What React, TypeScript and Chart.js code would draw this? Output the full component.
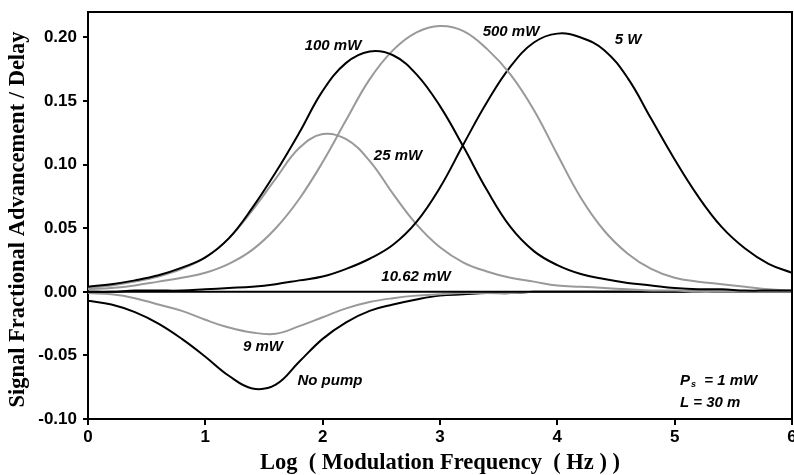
import React, { useEffect, useRef } from "react";
import { Chart, registerables } from "chart.js";

Chart.register(...registerables);

// Log10 of modulation frequency (Hz)
const xs = [0, 0.2, 0.4, 0.6, 0.8, 1.0, 1.2, 1.4, 1.6, 1.8, 2.0, 2.2, 2.4, 2.6, 2.8, 3.0, 3.2, 3.4, 3.6, 3.8, 4.0, 4.2, 4.4, 4.6, 4.8, 5.0, 5.2, 5.4, 5.6, 5.8, 6.0];

const p100mW = [0.004, 0.006, 0.009, 0.013, 0.019, 0.027, 0.042, 0.066, 0.094, 0.125, 0.158, 0.180, 0.189, 0.186, 0.171, 0.146, 0.114, 0.080, 0.051, 0.032, 0.021, 0.014, 0.010, 0.007, 0.005, 0.003, 0.002, 0.002, 0.001, 0.001, 0.001];
const p500mW = [0.002, 0.003, 0.005, 0.008, 0.011, 0.015, 0.022, 0.033, 0.050, 0.073, 0.102, 0.135, 0.167, 0.190, 0.204, 0.209, 0.205, 0.191, 0.171, 0.143, 0.108, 0.074, 0.048, 0.030, 0.018, 0.011, 0.008, 0.006, 0.004, 0.002, 0.001];
const p5W = [0.000, 0.000, 0.001, 0.001, 0.001, 0.002, 0.003, 0.004, 0.006, 0.009, 0.012, 0.018, 0.026, 0.037, 0.055, 0.082, 0.116, 0.149, 0.177, 0.196, 0.203, 0.200, 0.190, 0.168, 0.136, 0.104, 0.075, 0.051, 0.034, 0.022, 0.015];
const p25mW = [0.003, 0.005, 0.008, 0.012, 0.018, 0.027, 0.042, 0.064, 0.089, 0.113, 0.124, 0.120, 0.103, 0.077, 0.053, 0.035, 0.023, 0.016, 0.011, 0.008, 0.005, 0.004, 0.003, 0.002, 0.001, 0.001, 0, 0, 0, 0, 0];
const p1062mW = [0, 0, 0, 0, 0, 0, 0, 0, 0, 0, 0, 0, 0, 0, 0, 0, 0, 0, 0, 0, 0, 0, 0, 0, 0, 0, 0, 0, 0, 0, 0];
const p9mW = [-0.001, -0.002, -0.005, -0.010, -0.015, -0.022, -0.028, -0.032, -0.033, -0.027, -0.020, -0.013, -0.008, -0.005, -0.003, -0.002, -0.001, -0.001, -0.001, 0, 0, 0, 0, 0, 0, 0, 0, 0, 0, 0, 0];
const pNoPump = [-0.007, -0.010, -0.016, -0.025, -0.037, -0.051, -0.066, -0.076, -0.073, -0.055, -0.037, -0.024, -0.015, -0.010, -0.006, -0.003, -0.002, -0.001, -0.001, 0, 0, 0, 0, 0, 0, 0, 0, 0, 0, 0, 0];

const xTicks = [0, 1, 2, 3, 4, 5, 6];
const yTicks = [-0.1, -0.05, 0, 0.05, 0.1, 0.15, 0.2];

const seriesNames = ["100 mW", "500 mW", "5 W", "25 mW", "10.62 mW", "9 mW", "No pump"];
const seriesValues = [p100mW, p500mW, p5W, p25mW, p1062mW, p9mW, pNoPump];
const seriesColors = ["#000000", "#999999", "#000000", "#999999", "#000000", "#999999", "#000000"];

// curve labels, placed in data coordinates (centre of text)
const curveLabels = [
  { text: "100 mW", x: 2.088, y: 0.193 },
  { text: "500 mW", x: 3.605, y: 0.204 },
  { text: "5 W", x: 4.602, y: 0.198 },
  { text: "25 mW", x: 2.642, y: 0.107 },
  { text: "10.62 mW", x: 2.795, y: 0.012 },
  { text: "9 mW", x: 1.491, y: -0.043 },
  { text: "No pump", x: 2.062, y: -0.070 },
];

const X_TITLE = "Log  ( Modulation Frequency  ( Hz ) )";
const Y_TITLE = "Signal Fractional Advancement / Delay";

const labelFont = "italic bold 15px 'Liberation Sans', Arial, sans-serif";
const titleFont = "bold 22.5px 'Liberation Serif', 'Times New Roman', serif";

const textPlugin = {
  id: "textPlugin",
  afterDraw(chart: any) {
    const ctx = chart.ctx;
    const xs_ = chart.scales.x;
    const ys_ = chart.scales.y;
    const a = chart.chartArea;
    ctx.save();
    // frame top and right
    ctx.strokeStyle = "#000";
    ctx.lineWidth = 2;
    ctx.beginPath();
    ctx.moveTo(a.left, a.top);
    ctx.lineTo(a.right, a.top);
    ctx.lineTo(a.right, a.bottom);
    ctx.stroke();

    ctx.fillStyle = "#000";
    ctx.font = labelFont;
    ctx.textAlign = "center";
    ctx.textBaseline = "middle";
    for (const l of curveLabels) {
      ctx.fillText(l.text, xs_.getPixelForValue(l.x), ys_.getPixelForValue(l.y));
    }

    // P_s = 1 mW and L = 30 m
    ctx.textAlign = "left";
    const px = xs_.getPixelForValue(5.045);
    const py1 = ys_.getPixelForValue(-0.070);
    const py2 = ys_.getPixelForValue(-0.0875);
    ctx.fillText("P", px, py1);
    const wP = ctx.measureText("P").width;
    ctx.font = "italic bold 9px 'Liberation Sans', Arial, sans-serif";
    ctx.fillText("s", px + wP + 1, py1 + 4);
    const ws = ctx.measureText("s").width;
    ctx.font = labelFont;
    ctx.fillText("  = 1 mW", px + wP + 1 + ws, py1);
    ctx.fillText("L = 30 m", px, py2);

    // axis titles
    ctx.font = titleFont;
    ctx.textAlign = "center";
    ctx.textBaseline = "middle";
    ctx.fillText(X_TITLE, (a.left + a.right) / 2, 463);
    ctx.translate(18, (a.top + a.bottom) / 2 + 4);
    ctx.rotate(-Math.PI / 2);
    ctx.fillText(Y_TITLE, 0, 0);
    ctx.restore();
  },
};

export default function App() {
  const ref = useRef<HTMLCanvasElement | null>(null);
  useEffect(() => {
    document.body.style.margin = "0";
    const canvas = ref.current;
    if (!canvas) return;
    const tickFont = { family: "'Liberation Sans', Arial, sans-serif", size: 17, weight: "bold" as const };
    const chart = new Chart(canvas, {
      type: "line",
      data: {
        datasets: seriesNames.map((name, i) => ({
          label: name,
          data: xs.map((x, j) => ({ x, y: seriesValues[i][j] })),
          borderColor: seriesColors[i],
          backgroundColor: seriesColors[i],
          borderWidth: 2,
          pointRadius: 0,
          tension: 0.4,
          fill: false,
        })),
      },
      options: {
        animation: false,
        responsive: false,
        devicePixelRatio: 1,
        layout: { padding: { top: 12, right: 2, left: 0, bottom: 0 } },
        plugins: { legend: { display: false }, tooltip: { enabled: false } },
        scales: {
          x: {
            type: "linear",
            min: 0,
            max: 6,
            afterFit: (s: any) => { s.height = 56; s.paddingLeft = 0; s.paddingRight = 0; },
            afterBuildTicks: (s: any) => { s.ticks = xTicks.map((v) => ({ value: v })); },
            ticks: { color: "#000", font: tickFont, padding: 2, maxRotation: 0, callback: (v: any) => String(v) },
            grid: { drawOnChartArea: false, drawTicks: true, tickLength: 6, color: "#000", lineWidth: 2 },
            border: { color: "#000", width: 2 },
          },
          y: {
            type: "linear",
            min: -0.1,
            max: 0.22,
            afterFit: (s: any) => { s.width = 88; s.paddingTop = 0; s.paddingBottom = 0; },
            afterBuildTicks: (s: any) => { s.ticks = yTicks.map((v) => ({ value: v })); },
            ticks: { color: "#000", font: tickFont, padding: 6, callback: (v: any) => Number(v).toFixed(2) },
            grid: { drawOnChartArea: false, drawTicks: true, tickLength: 5, color: "#000", lineWidth: 2 },
            border: { color: "#000", width: 2 },
          },
        },
      },
      plugins: [textPlugin],
    } as any);
    return () => chart.destroy();
  }, []);
  return (
    <div style={{ width: 794, height: 475, background: "#fff" }}>
      <canvas ref={ref} width={794} height={475} style={{ display: "block" }} />
    </div>
  );
}
